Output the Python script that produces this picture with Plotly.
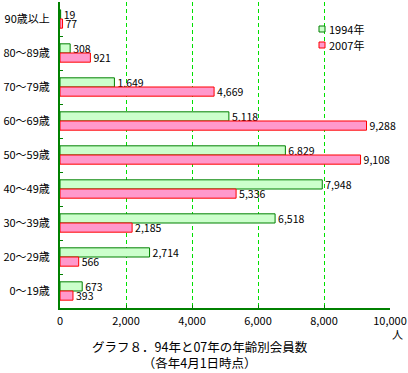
import plotly.graph_objects as go

categories = ["90歳以上", "80～89歳", "70～79歳", "60～69歳", "50～59歳",
              "40～49歳", "30～39歳", "20～29歳", "0～19歳"]
values_1994 = [19, 308, 1649, 5118, 6829, 7948, 6518, 2714, 673]
values_2007 = [77, 921, 4669, 9288, 9108, 5336, 2185, 566, 393]
series_names = ["1994年", "2007年"]
x_ticks = [0, 2000, 4000, 6000, 8000, 10000]
x_tick_labels = ["0", "2,000", "4,000", "6,000", "8,000", "10,000"]

FONT = "Noto Sans CJK JP"
AXIS_GREEN = "#008000"
FILLS = ["#ccffcc", "#ff99cc"]
EDGES = ["#008000", "#ff0000"]

# plot area in pixels
L, R, T, B = 60, 390, 2, 308
W, H = 408, 373


def px(x):
    return (x - L) / (R - L)


def py(y):
    return (B - y) / (B - T)


fig = go.Figure()
for name, vals, fill, edge in zip(series_names, [values_1994, values_2007], FILLS, EDGES):
    fig.add_trace(go.Bar(
        name=name, y=categories, x=vals, orientation="h",
        marker=dict(color=fill, line=dict(color=edge, width=1)),
        text=[f"{v:,}" for v in vals], textposition="outside",
        textfont=dict(family=FONT, size=10.5, color="black"),
        constraintext="none", cliponaxis=False, showlegend=False,
        hoverinfo="skip",
    ))

shapes = []
annotations = []
for i, (name, fill, edge) in enumerate(zip(series_names, FILLS, EDGES)):
    yc = 29 + 16 * i
    shapes.append(dict(type="rect", xref="paper", yref="paper",
                       x0=px(319), x1=px(325), y0=py(yc + 3), y1=py(yc - 3),
                       fillcolor=fill, line=dict(color=edge, width=1)))
    annotations.append(dict(text=name, xref="paper", yref="paper", x=px(327), y=py(yc),
                            xanchor="left", yanchor="middle", showarrow=False,
                            font=dict(size=11)))

annotations += [
    dict(text="人", x=px(397), y=py(334), xref="paper", yref="paper", showarrow=False,
         xanchor="center", yanchor="middle", font=dict(size=11)),
    dict(text="グラフ８．94年と07年の年齢別会員数<br>（各年4月1日時点）", xref="paper", yref="paper",
         x=px(200), y=py(354), xanchor="center", yanchor="middle", showarrow=False,
         align="center", font=dict(size=12.5)),
]

fig.update_layout(
    width=W, height=H,
    margin=dict(l=L, r=W - R, t=T, b=H - B, autoexpand=False),
    paper_bgcolor="white", plot_bgcolor="white",
    barmode="group", bargap=0.46, bargroupgap=0,
    font=dict(family=FONT, size=11, color="black"),
    showlegend=False,
    xaxis=dict(range=[0, 10000], tickvals=x_ticks, ticktext=x_tick_labels,
               showgrid=True, gridcolor="#00e000", griddash="4px,3px", gridwidth=1,
               zeroline=False, showline=True, linecolor=AXIS_GREEN, linewidth=2,
               ticks="inside", ticklen=3, tickcolor=AXIS_GREEN, automargin=False,
               tickfont=dict(family=FONT, size=11), ticklabelstandoff=2),
    yaxis=dict(categoryorder="array", categoryarray=categories, autorange="reversed",
               showline=True, linecolor=AXIS_GREEN, linewidth=2,
               ticks="inside", ticklen=3, tickcolor=AXIS_GREEN, tickson="boundaries",
               showgrid=False, automargin=False, ticklabelstandoff=6,
               tickfont=dict(family=FONT, size=11)),
    shapes=shapes,
    annotations=annotations,
)

fig.write_html("out.html", config={"displayModeBar": False},
               post_script="document.body.style.margin='0';document.body.style.overflow='hidden';")
